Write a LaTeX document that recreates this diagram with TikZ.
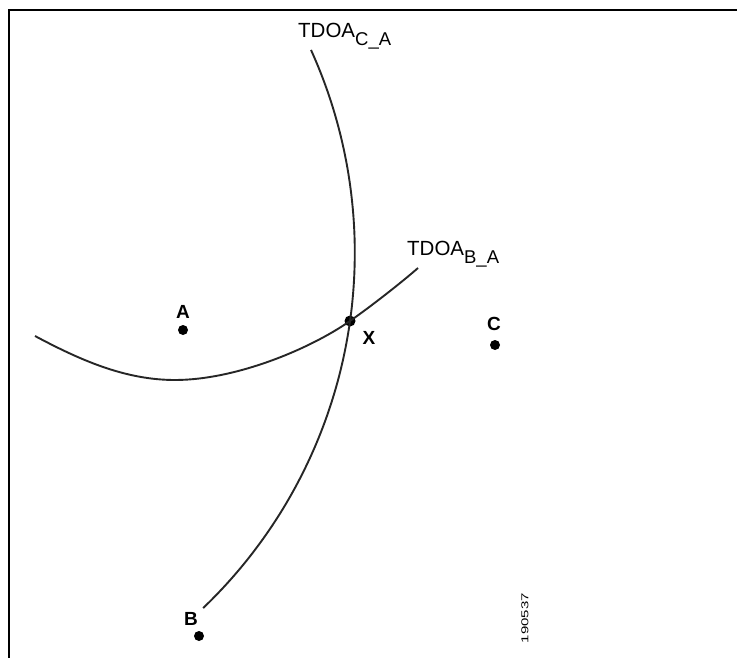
\documentclass[tikz,border=0pt]{standalone}
\usepackage{fontspec}
\setmainfont{Liberation Sans}
\begin{document}
\begin{tikzpicture}[x=1pt,y=-1pt,
  curve/.style={line width=1.9pt,black!85},
  frame/.style={line width=2.2pt,black},
  dot/.style={circle,fill=black,inner sep=0pt,minimum size=10pt},
  ptlabel/.style={font=\fontsize{19}{19}\selectfont\bfseries,inner sep=0pt},
  tdoa/.style={font=\fontsize{20.5}{20.5}\selectfont,inner sep=0pt,anchor=base west}]
\useasboundingbox (0,0) rectangle (737,658);
\fill[white] (0,0) rectangle (737,658);
% frame
\coordinate (f1) at (9,10);
\coordinate (f2) at (737,10);
\coordinate (f3) at (9,658);
\draw[frame] (f2) -- (f1) -- (f3);
% points
\node[dot] (a) at (183,330) {};
\node[dot] (c) at (495,345) {};
\node[dot] (b) at (199,636) {};
\node[dot,minimum size=11pt] (x) at (350,321) {};
% TDOA C_A curve
\draw[curve] plot[domain=-46.23:24.35,samples=80,smooth] ({-137.2+492*cos(\x)},{252.8-492*sin(\x)});
% TDOA B_A curve
\coordinate (s) at (35,336);
\coordinate (m) at (175,380);
\coordinate (e) at (418,268);
\draw[curve] (s) .. controls (80,360) and (125,380) .. (m)
  .. controls (235,380) and (309,349.6) .. (x.center)
  .. controls (370.5,306.7) and (401.5,282.5) .. (e);
\node[ptlabel] (la) at (183,312) {A};
\node[ptlabel] (lc) at (494,324) {C};
\node[ptlabel] (lb) at (191,619) {B};
\node[ptlabel] (lx) at (369,338) {X};
% curve labels
\node[tdoa] (tca) at (298,38) {TDOA\raisebox{-8pt}{\fontsize{18.5}{18.5}\selectfont C\_A}};
\node[tdoa] (tba) at (407,255) {TDOA\raisebox{-8pt}{\fontsize{18.5}{18.5}\selectfont B\_A}};
% figure number
\node[rotate=90,font=\fontsize{10}{10}\selectfont,inner sep=0pt] (num) at (525,618) {\scalebox{1.5}[1]{190537}};
\end{tikzpicture}
\end{document}
